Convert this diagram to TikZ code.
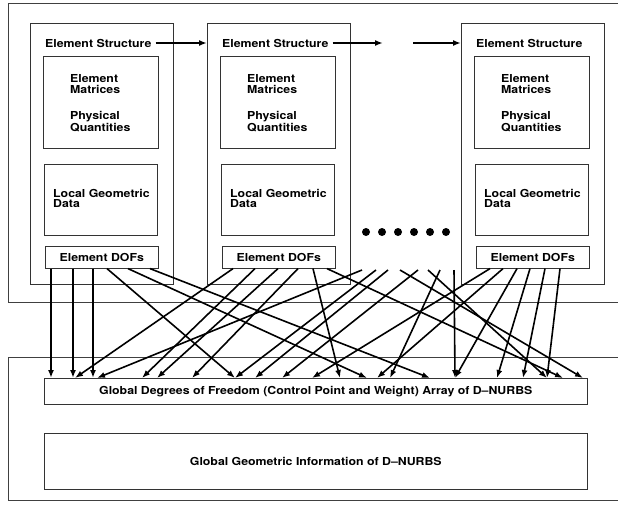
\documentclass[tikz,border=0pt]{standalone}
\usepackage{fontspec}
\setmainfont{TeX Gyre Heros}[FakeStretch=1.12]
\usetikzlibrary{arrows.meta}
\tikzset{
  frame/.style={draw=black!75,line width=0.6pt},
  box/.style={draw=black!80,line width=0.6pt,inner sep=0pt,anchor=north west},
  lbl/.style={font=\bfseries\fontsize{11}{10.5}\selectfont,align=left,inner sep=0pt,anchor=west},
  dofarrow/.style={line width=1.6pt,-{Latex[length=8pt,width=6pt]}},
}
\begin{document}
\begin{tikzpicture}[x=1pt,y=-1pt]
\useasboundingbox (0,0) rectangle (618,504);
\draw[frame] (618,3) -| (8,302) -- (618,302);
\draw[frame] (618,357) -| (8,500) -- (618,500);
% element structures
\foreach \n/\x in {A/30,B/207,C/461}{
\begin{scope}[xshift=\x pt]
\node[box,minimum width=143pt,minimum height=261pt] (el\n) at (0,23) {};
\node[lbl] (title\n) at (15,43) {Element Structure};
\node[box,minimum width=115pt,minimum height=92pt] (mat\n) at (13,56) {};
\node[lbl] at (40,84) {Element\\Matrices};
\node[lbl] at (40,121.5) {Physical\\Quantities};
\node[box,minimum width=113pt,minimum height=71pt] (geo\n) at (14,164) {};
\node[lbl] at (23,198.5) {Local Geometric\\Data};
\node[box,minimum width=113pt,minimum height=22pt] (dof\n) at (15,246) {};
\node[lbl,anchor=center] at (dof\n.center) {Element DOFs};
\end{scope}}
\coordinate (gapL) at (383,45); \coordinate (gapR) at (413,45);
\draw[dofarrow] ([xshift=4pt]titleA.east) -- (titleA.east -| elB.west);
\draw[dofarrow] ([xshift=4pt]titleB.east) -- (titleB.east -| gapL);
\draw[dofarrow] (titleC.west -| gapR) -- (titleC.west -| elC.west);
\foreach \i in {0,...,5} \fill (366+16*\i,232) circle (4pt);
\coordinate (dotsrc) at (360,270);
% global arrays
\node[box,minimum width=543pt,minimum height=26pt] (gdof) at (44,378) {};
\node[lbl,anchor=center] at (gdof.center) {Global Degrees of Freedom (Control Point and Weight) Array of D--NURBS};
\node[box,minimum width=543pt,minimum height=56pt] (ggeo) at (44,433) {};
\node[lbl,anchor=center] at (ggeo.center) {Global Geometric Information of D--NURBS};
% dof mapping
\foreach \s/\e in {6/7,28/29,48/49,62/191,83/323,105/386}
  \draw[dofarrow] ([xshift=\s pt]dofA.south west) -- ([xshift=\e pt]gdof.north west);
\foreach \s/\e in {11/31,33/98,56/113,76/148,91/296,105/519}
  \draw[dofarrow] ([xshift=\s pt]dofB.south west) -- ([xshift=\e pt]gdof.north west);
\foreach \s/\e in {14/268,27/333,41/411,54/453,69/479,84/503}
  \draw[dofarrow] ([xshift=\s pt]dofC.south west) -- ([xshift=\e pt]gdof.north west);
\foreach \s/\e in {2/53,16/191,28/211,40/539,58/238,68/503,80/346,94/411}
  \draw[dofarrow] ([xshift=\s pt]dotsrc) -- ([xshift=\e pt]gdof.north west);
\end{tikzpicture}
\end{document}
